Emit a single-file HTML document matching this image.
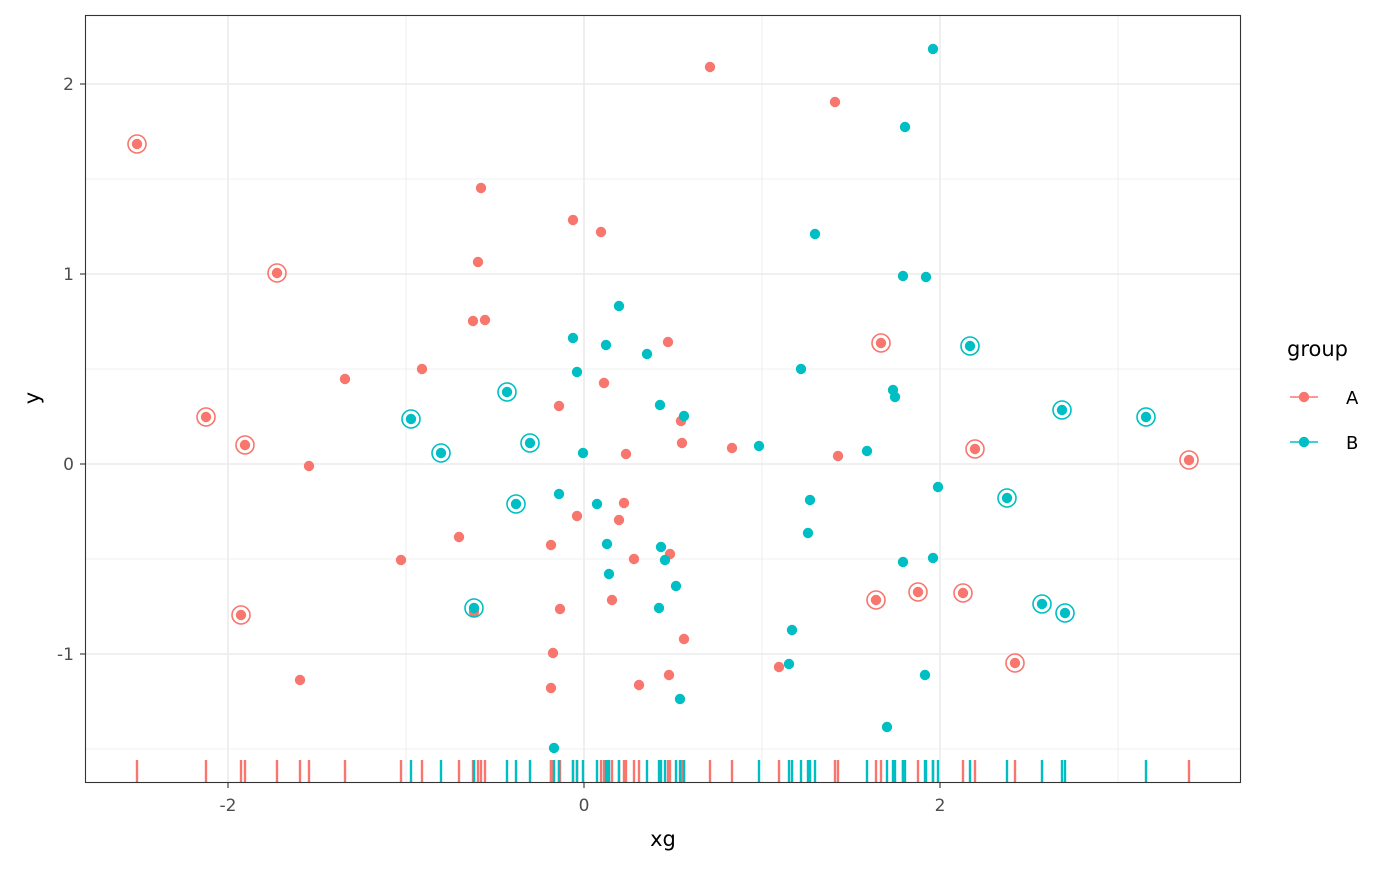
<!DOCTYPE html>
<html><head><meta charset="utf-8"><style>
html,body{margin:0;padding:0;background:#fff;}
svg text{font-family:"DejaVu Sans","Liberation Sans",sans-serif;}
</style></head><body>
<svg id="s" width="1400" height="866" xmlns="http://www.w3.org/2000/svg">
<rect width="1400" height="866" fill="#fff"/>
<g id="grid"></g>
<g id="rug"></g>
<g id="pts"></g>
<rect x="85.5" y="15.5" width="1155" height="767" fill="none" stroke="#333" stroke-width="1.1"/>
<g fill="#4d4d4d" font-size="17" text-anchor="end">
<text x="74" y="90">2</text><text x="74" y="280">1</text><text x="74" y="470">0</text><text x="74" y="660">-1</text>
</g>
<g fill="#4d4d4d" font-size="17" text-anchor="middle">
<text x="228" y="811">-2</text><text x="584" y="811">0</text><text x="940" y="811">2</text>
</g>
<g stroke="#333" stroke-width="1.1">
<line x1="80" x2="85" y1="84" y2="84"/><line x1="80" x2="85" y1="274" y2="274"/><line x1="80" x2="85" y1="464" y2="464"/><line x1="80" x2="85" y1="654" y2="654"/>
<line x1="228" x2="228" y1="783" y2="788"/><line x1="584" x2="584" y1="783" y2="788"/><line x1="940" x2="940" y1="783" y2="788"/>
</g>
<text x="663" y="846" font-size="21" text-anchor="middle" fill="#000">xg</text>
<text x="0" y="0" font-size="21" text-anchor="middle" fill="#000" transform="translate(39,398) rotate(-90)">y</text>
<text x="1287" y="356" font-size="21" fill="#000">group</text>
<line x1="1290" x2="1318" y1="397" y2="397" stroke="#F8766D" stroke-width="1.6"/><circle cx="1304" cy="397" r="5.2" fill="#F8766D"/>
<line x1="1290" x2="1318" y1="442" y2="442" stroke="#00BFC4" stroke-width="1.6"/><circle cx="1304" cy="442" r="5.2" fill="#00BFC4"/>
<text x="1346" y="404" font-size="18" fill="#000">A</text>
<text x="1346" y="449" font-size="18" fill="#000">B</text>
</svg>
<script>
var NS="http://www.w3.org/2000/svg";
function el(p,t,a){var e=document.createElementNS(NS,t);for(var k in a)e.setAttribute(k,a[k]);document.getElementById(p).appendChild(e);}
[406,762,1118].forEach(function(x){el("grid","line",{x1:x,x2:x,y1:16,y2:782,stroke:"#EBEBEB","stroke-width":0.8});});
[179,369,559,749].forEach(function(y){el("grid","line",{x1:86,x2:1240,y1:y,y2:y,stroke:"#EBEBEB","stroke-width":0.8});});
[228,584,940].forEach(function(x){el("grid","line",{x1:x,x2:x,y1:16,y2:782,stroke:"#EBEBEB","stroke-width":1.6});});
[84,274,464,654].forEach(function(y){el("grid","line",{x1:86,x2:1240,y1:y,y2:y,stroke:"#EBEBEB","stroke-width":1.6});});
var A=[[137,144,1],[277,273,1],[206,417,1],[245,445,1],[241,615,1],[309,466],[345,379],[401,560],[422,369],[459,537],[473,321],[485,320],[478,262],[481,188],[474,612],[300,680],[573,220],[601,232],[604,383],[559,406],[577,516],[551,545],[553,653],[551,688],[560,609],[612,600],[619,520],[624,503],[626,454],[634,559],[639,685],[668,342],[670,554],[669,675],[681,421],[682,443],[684,639],[710,67],[732,448],[779,667],[835,102],[838,456],[881,343,1],[876,600,1],[918,592,1],[963,593,1],[975,449,1],[1015,663,1],[1189,460,1]];
var B=[[411,419,1],[441,453,1],[507,392,1],[530,443,1],[516,504,1],[474,608,1],[573,338],[577,372],[583,453],[559,494],[554,748],[597,504],[606,345],[619,306],[647,354],[607,544],[609,574],[660,405],[684,416],[661,547],[665,560],[659,608],[676,586],[680,699],[759,446],[801,369],[810,500],[808,533],[815,234],[792,630],[789,664],[867,451],[887,727],[905,127],[933,49],[903,276],[926,277],[893,390],[895,397],[938,487],[933,558],[903,562],[925,675],[970,346,1],[1007,498,1],[1062,410,1],[1146,417,1],[1042,604,1],[1065,613,1]];
function draw(arr,c){arr.forEach(function(p){
el("rug","line",{x1:p[0],x2:p[0],y1:760,y2:782,stroke:c,"stroke-width":2.4});
el("pts","circle",{cx:p[0],cy:p[1],r:5.2,fill:c});
if(p[2])el("pts","circle",{cx:p[0],cy:p[1],r:9,fill:"none",stroke:c,"stroke-width":1.6});});}
draw(A,"#F8766D");draw(B,"#00BFC4");
</script>
</body></html>
